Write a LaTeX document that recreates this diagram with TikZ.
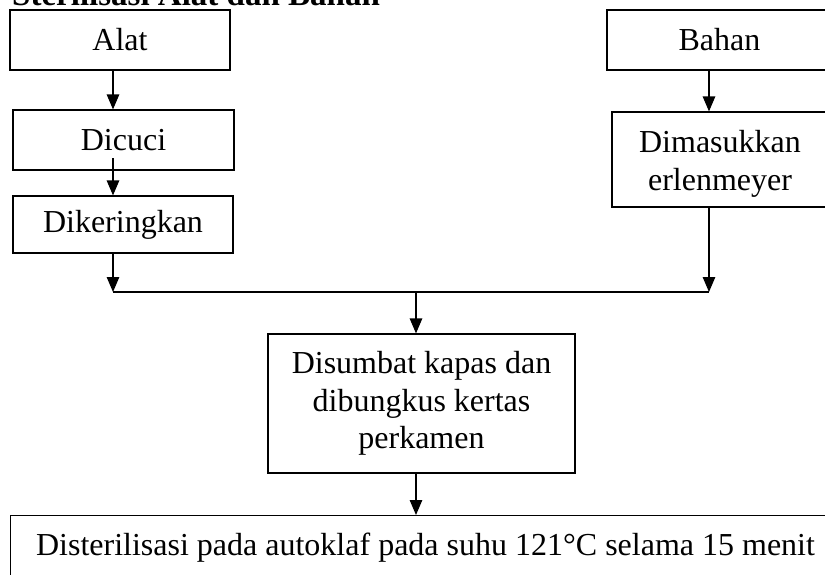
\documentclass[tikz,border=0pt]{standalone}
\usepackage{fontspec}
\setmainfont{Liberation Serif}
\usetikzlibrary{arrows.meta}

\tikzset{
  stepbox/.style={draw, line width=1.2pt, align=center, inner sep=0pt,
    font=\fontsize{32}{37.5}\selectfont},
  steptext/.style={align=center, inner sep=0pt, font=\fontsize{32}{37.5}\selectfont},
  flow/.style={line width=1.2pt, -{Triangle[length=15pt,width=12.5pt]}},
  joinline/.style={line width=1.2pt}
}

\begin{document}
\begin{tikzpicture}[x=1pt,y=-1pt]
  \useasboundingbox (0,0) rectangle (825,574);
  \clip (0,0) rectangle (825,574);

  % heading
  \node[anchor=base west, inner sep=0pt, font=\fontsize{33}{39}\selectfont\bfseries]
    (title) at (12,5) {Sterilisasi Alat dan Bahan};

  % left branch: tools
  \node[stepbox, minimum width=220pt, minimum height=60pt] (alat) at (120,40) {Alat};
  \node[stepbox, minimum width=221pt, minimum height=60pt] (dicuci) at (123.5,140) {Dicuci};
  \node[stepbox, minimum width=220pt, minimum height=57pt] (kering) at (123,224.5) {Dikeringkan};

  % right branch: materials
  \node[stepbox, minimum width=225pt, minimum height=60pt] (bahan) at (719.5,40) {Bahan};
  \node[stepbox, minimum width=222pt, minimum height=95pt] (masuk) at (723,159.5) {};
  \node[steptext] (masuktxt) at (720,164) {Dimasukkan\\erlenmeyer};

  % merged steps
  \node[stepbox, minimum width=307pt, minimum height=139pt] (sumbat) at (421.5,403.5)
    {Disumbat kapas dan\\dibungkus kertas\\perkamen};
  \node[stepbox, minimum width=831pt, minimum height=70pt, anchor=north west] (steril) at (10,515) {};
  \node[steptext, anchor=base] (steriltxt) at (425.5,555)
    {Disterilisasi pada autoklaf pada suhu 121°C selama 15 menit};

  % junction points
  \coordinate (cuciout) at (113,158);
  \coordinate (jl) at (113,292);
  \coordinate (jr) at (709,292);
  \coordinate (jm) at (416,292);

  % connectors
  \draw[flow] (alat.south -| jl) -- (dicuci.north -| jl);
  \draw[flow] (cuciout) -- (kering.north -| jl);
  \draw[flow] (kering.south -| jl) -- (jl);
  \draw[flow] (bahan.south -| jr) -- (masuk.north -| jr);
  \draw[flow] (masuk.south -| jr) -- (jr);
  \draw[joinline] (jl) -- (jr);
  \draw[flow] (jm) -- (sumbat.north -| jm);
  \draw[flow] (sumbat.south -| jm) -- (steril.north -| jm);
\end{tikzpicture}
\end{document}
